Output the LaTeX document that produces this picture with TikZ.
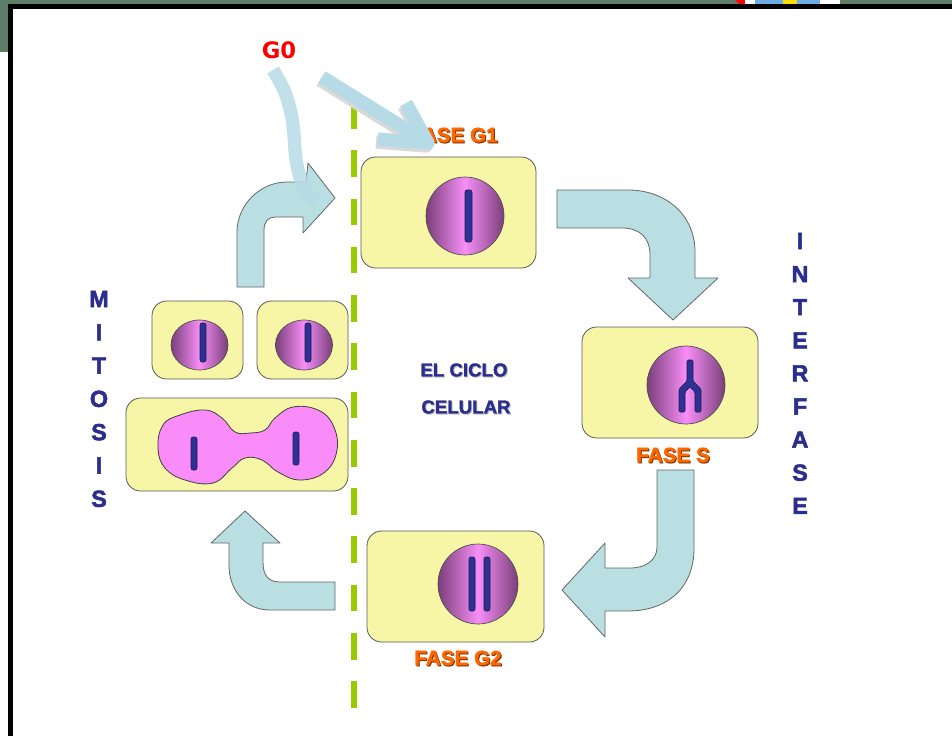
\documentclass[tikz,border=0pt]{standalone}
\usepackage{fontspec}
\setmainfont{Liberation Sans}
\newfontfamily\gzerofont{DejaVu Sans}
\newfontfamily\heavyfont[FakeBold=1.6]{Liberation Sans Bold}
\newfontfamily\sideheavyfont[FakeBold=2.2]{Liberation Sans Bold}
\usepackage{tikz}
\usetikzlibrary{shapes.geometric}

\definecolor{bggreen}{HTML}{5E7D68}
\definecolor{cellyellow}{HTML}{F6F6A6}
\definecolor{nucpurple}{HTML}{7A3F7A}
\definecolor{nucpink}{HTML}{F78EF7}
\definecolor{chromblue}{HTML}{2E3192}
\definecolor{chromdark}{HTML}{1A1A55}
\definecolor{blobpink}{HTML}{FA8CF9}
\definecolor{arrowblue}{HTML}{B9DFE3}
\definecolor{gzeroblue}{HTML}{B7DBE6}
\definecolor{divgreen}{HTML}{99CC00}
\definecolor{phaseorange}{HTML}{FF6600}
\definecolor{phasebrown}{HTML}{7A3300}
\definecolor{titleblue}{HTML}{2B2E8C}

\begin{document}
\begin{tikzpicture}[x=0.75pt, y=-0.75pt,
    cell/.style={draw=black!65, line width=0.6pt, fill=cellyellow, rounded corners=11pt, inner sep=0pt, outer sep=0pt},
    nucleus/.style={circle, draw=black!70, line width=0.5pt, left color=nucpurple, right color=nucpurple, middle color=nucpink, inner sep=0pt},
    chrom/.style={draw=chromdark, line width=0.4pt, fill=chromblue, rounded corners=1.5pt},
    blockarrow/.style={draw=black!60, line width=0.6pt, fill=arrowblue, line join=round},
    phase/.style={text=phaseorange, font=\heavyfont\fontsize{15.5}{18}\selectfont, inner sep=0pt},
    phaseshadow/.style={phase, text=phasebrown},
    cycletext/.style={text=titleblue, font=\heavyfont\fontsize{14}{17}\selectfont, inner sep=0pt},
    sideletter/.style={text=titleblue, font=\sideheavyfont\fontsize{17.5}{20}\selectfont, inner sep=0pt},
    gzero/.style={line width=10pt, draw=gzeroblue, line join=round},
  ]
    \useasboundingbox (0,0) rectangle (952,735);
    \clip (0,0) rectangle (952,735);

    % Window edge
    \fill[bggreen] (0,0) rectangle (952,6);
    \fill[bggreen] (0,0) rectangle (9,52);
    \fill[red] (735,0) -- (745,0) -- (748,5) -- (740,5) -- cycle;
    \fill[white] (745,0) rectangle (840,5);
    \fill[cyan!70!blue!60] (755,0) rectangle (820,5);
    \fill[yellow!80!orange] (783,0) rectangle (797,5);
    \draw[line width=3.75pt, fill=white] (10.5,6.5) rectangle (1000,800);

    % Border between interphase and mitosis
    \draw[line width=4.9pt, divgreen, dash pattern=on 20pt off 16.2pt] (354,102) -- (354,708);

    % Cells
    \node[cell, minimum width=131.25pt, minimum height=83.25pt] (g1cell) at (448.5,212.5) {};
    \node[cell, minimum width=132pt, minimum height=83.25pt] (scell) at (670,382.5) {};
    \node[cell, minimum width=132.75pt, minimum height=83.25pt] (g2cell) at (455.5,586.5) {};
    \node[cell, minimum width=68.25pt, minimum height=58.5pt] (daughterA) at (197.5,340) {};
    \node[cell, minimum width=68.25pt, minimum height=58.5pt] (daughterB) at (302.5,340) {};
    \node[cell, minimum width=166.5pt, minimum height=69.75pt] (dividing) at (237,444.5) {};

    % Nuclei
    \node[nucleus, minimum size=58.5pt] (g1nuc) at (465,216) {};
    \node[nucleus, minimum size=58.5pt] (snuc) at (686,385) {};
    \node[nucleus, minimum size=60pt] (g2nuc) at (478,584) {};
    \node[nucleus, ellipse, minimum width=42.75pt, minimum height=37.5pt] (nucA) at (199.5,345) {};
    \node[nucleus, ellipse, minimum width=42.75pt, minimum height=37.5pt] (nucB) at (304,345) {};

    % Nucleus splitting in two
    \draw[draw=black!75, line width=0.6pt, fill=blobpink] plot[smooth cycle, tension=0.7] coordinates {
        (158,448) (163,425) (180,415) (205,410) (222,418) (235,432) (250,433) (265,430)
        (275,418) (293,407) (318,410) (333,425) (337,450) (325,472) (300,480) (278,472)
        (262,460) (245,458) (232,468) (213,483) (185,480) (165,468)};

    % Chromosomes
    \draw[chrom] (465,190) rectangle (472,242);
    \draw[chrom] (200,323) rectangle (206,362);
    \draw[chrom] (305,323) rectangle (311,362);
    \draw[chrom] (191,437) rectangle (197,470);
    \draw[chrom] (293,432) rectangle (299,465);
    \draw[chrom] (469,557) rectangle (475,611);
    \draw[chrom] (484,557) rectangle (490,611);
    \draw[chrom, rounded corners=1pt] (687,360) -- (693,360) -- (693,381) -- (701,389) -- (701,412)
        -- (695,412) -- (695,392) -- (690,387) -- (685,392) -- (685,412) -- (679,412)
        -- (679,389) -- (687,381) -- cycle;

    % Block arrows round the cycle
    \draw[blockarrow] (557,190) -- (628,190) .. controls (666,190) and (695,215) .. (695,252)
        -- (695,278) -- (718,278) -- (673,320) -- (628,278) -- (650,278) -- (650,255)
        .. controls (650,238) and (640,228) .. (622,228) -- (557,228) -- cycle;
    \draw[blockarrow] (657,470) -- (694,470) -- (694,548) .. controls (694,590) and (665,611) .. (628,611)
        -- (605,611) -- (605,637) -- (562,590) -- (605,543) -- (605,568) -- (630,568)
        .. controls (646,568) and (657,560) .. (657,547) -- cycle;
    \draw[blockarrow] (335,582) -- (335,610) -- (270,610) .. controls (245,610) and (229,590) .. (229,565)
        -- (229,543) -- (211,543) -- (245,511) -- (280,543) -- (263,543) -- (263,562)
        .. controls (263,575) and (268,582) .. (280,582) -- cycle;
    \draw[blockarrow] (237,287) -- (237,232) .. controls (237,205) and (260,182) .. (287,182)
        -- (306,182) -- (308,163) -- (335,198) -- (303,233) -- (303,217) -- (275,217)
        .. controls (268,217) and (264,222) .. (264,230) -- (264,287) -- cycle;

    % Labels
    \node[phaseshadow] at (455,136) {FASE G1};
    \node[phase] (g1label) at (454,135) {FASE G1};
    \node[phaseshadow] at (674,456) {FASE S};
    \node[phase] (slabel) at (673,455) {FASE S};
    \node[phaseshadow] at (459,659) {FASE G2};
    \node[phase] (g2label) at (458,658) {FASE G2};

    \node[cycletext, text=black!25] at (465,371) {EL CICLO};
    \node[cycletext] (cycleA) at (464,370) {EL CICLO};
    \node[cycletext, text=black!25] at (467,408) {CELULAR};
    \node[cycletext] (cycleB) at (466,407) {CELULAR};

    \foreach \ch [count=\i from 0] in {M,I,T,O,S,I,S}
        \node[sideletter] (mit\i) at (99,299+33.3*\i) {\ch};
    \foreach \ch [count=\i from 0] in {I,N,T,E,R,F,A,S,E}
        \node[sideletter] (inter\i) at (800,241+33.1*\i) {\ch};

    % Resting phase G0
    \node[text=red, font=\gzerofont\bfseries\fontsize{17}{20}\selectfont, inner sep=0pt] (gzerolabel) at (279,50) {G0};
    \begin{scope}[shift={(-2,3)}]
        \draw[gzero, draw=black!15] (322,77) -- (428,143);
        \draw[gzero, draw=black!15] (406,103) -- (428,143) -- (378,139);
    \end{scope}
    \draw[gzero, opacity=0.85] plot[smooth, tension=0.6] coordinates {(273,70) (284,90) (291,113) (294,135) (295,150) (298,170) (305,190) (316,203)};
    \draw[gzero] (322,77) -- (428,143);
    \draw[gzero] (406,103) -- (428,143) -- (378,139);
\end{tikzpicture}
\end{document}
